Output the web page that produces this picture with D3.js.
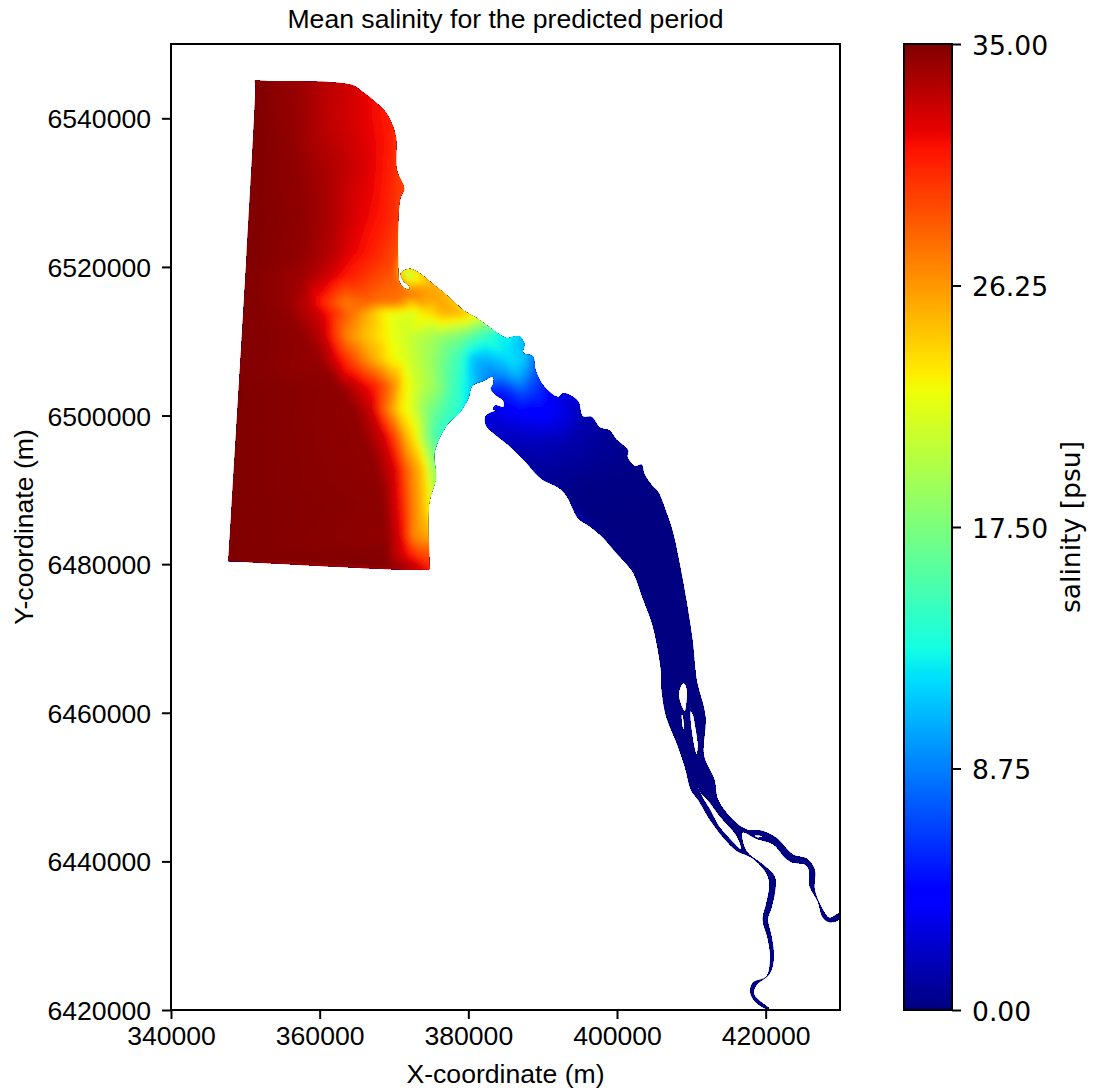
<!DOCTYPE html>
<html>
<head>
<meta charset="utf-8">
<script src="https://cdn.jsdelivr.net/npm/d3@7"></script>
<style>
  html, body { margin: 0; padding: 0; background: #fff; }
  svg { display: block; }
</style>
</head>
<body>
<div id="chart"></div>
<script>
// all coordinates below are in km
const xTicks = [340000, 360000, 380000, 400000, 420000];
const yTicks = [6420000, 6440000, 6460000, 6480000, 6500000, 6520000, 6540000];
const barTicks = [0, 8.75, 17.5, 26.25, 35];

// outer boundary of the model domain
const domainOutline = [
  [351.35,6544.4],[351.3,6545.1],[352.2,6545.05],[364.3,6544.5],[365.9,6543.5],[367.4,6542.3],[368.8,6541.0],[369.7,6539.4],[370.3,6537.4],[370.4,6533.1],
  [371.4,6530.5],[370.9,6529.3],[370.6,6526.0],[370.6,6520.1],[370.8,6517.9],[371.4,6517.2],[372.0,6517.0],[372.0,6517.4],
  [371.2,6518.1],[370.9,6519.2],[372.1,6519.8],[373.0,6519.5],[375.7,6517.4],[377.5,6515.9],[379.5,6514.1],[381.1,6513.2],
  [383.3,6511.6],[385.1,6510.5],[386.3,6510.7],[386.9,6510.7],[387.6,6509.6],[387.4,6508.5],[388.7,6508.0],[389.1,6506.0],
  [390.3,6503.8],[392.1,6502.5],[392.7,6503.0],[393.6,6502.8],[394.8,6501.9],[395.4,6499.9],[396.6,6499.8],[397.7,6498.4],
  [399.0,6498.0],[399.9,6496.8],[401.5,6495.3],[401.4,6494.5],[402.4,6493.2],[403.3,6493.4],[403.7,6492.1],[404.8,6490.5],
  [405.5,6489.8],[406.6,6487.1],[407.5,6484.4],[408.4,6480.2],[409.3,6475.3],[410.2,6469.5],[410.7,6464.5],[411.9,6459.5],
  [411.7,6454.2],[413.1,6451.0],[413.6,6448.3],[415.6,6445.6],[417.4,6444.3],[419.6,6444.1],[421.4,6443.2],[423.7,6440.9],
  [425.5,6440.4],[426.6,6438.9],[426.6,6436.2],[427.7,6433.5],[428.6,6432.4],[429.9,6433.0],[429.9,6432.2],[428.6,6431.8],
  [427.7,6432.4],[427.0,6434.6],[425.9,6436.7],[425.8,6438.9],[425.2,6439.6],[423.7,6439.8],[422.6,6440.5],[421.0,6442.3],
  [418.8,6443.0],[416.9,6443.9],[417.4,6441.4],[419.6,6439.6],[421.2,6438.0],[421.3,6436.2],[420.8,6433.8],[420.3,6432.2],
  [420.8,6429.9],[421.1,6427.0],[420.5,6424.8],[418.8,6423.4],[418.4,6422.3],[419.0,6421.4],[420.5,6420.2],[419.9,6420.2],
  [418.5,6421.2],[417.9,6422.5],[418.3,6423.7],[420.1,6424.5],[420.6,6427.0],[420.3,6429.5],[419.6,6432.2],[420.1,6434.4],
  [420.5,6437.1],[419.9,6438.7],[418.1,6440.5],[416.1,6441.4],[414.3,6443.2],[412.5,6445.6],[410.9,6448.3],[410.0,6449.5],
  [409.1,6452.8],[408.0,6456.0],[406.6,6459.5],[406.0,6463.1],[405.9,6465.8],[404.8,6471.7],[403.5,6475.3],[402.2,6478.8],
  [401.3,6480.0],[399.9,6481.5],[398.1,6483.6],[396.3,6485.1],[394.8,6486.1],[393.2,6489.2],[392.1,6490.3],[389.8,6491.5],
  [387.4,6494.1],[385.3,6496.1],[383.3,6497.7],[382.4,6498.6],[382.3,6499.9],[383.3,6500.5],[384.0,6500.6],[383.3,6500.8],
  [383.6,6501.4],[384.3,6501.2],[384.7,6501.1],[384.7,6502.0],[383.6,6502.8],[383.0,6503.6],[383.3,6504.2],[383.3,6505.2],
  [382.0,6504.6],[380.6,6504.0],[380.0,6502.2],[378.9,6500.4],[377.1,6498.6],[375.5,6495.0],[375.7,6491.6],[374.8,6488.3],
  [374.8,6480.0],[374.8,6479.3],[374.0,6479.25],[372.1,6479.2],[348.6,6480.35],[347.7,6480.4],[347.75,6481.2]
];

// islands cut out of the river
const islandA = [[408.9,6464.0],[408.3,6462.5],[409.1,6460.2],[409.4,6461.8],[409.3,6463.6]];
const islandB = [[409.9,6460.2],[410.0,6457.8],[410.7,6454.4],[410.9,6455.5],[410.6,6457.8],[410.2,6459.8]];
const islandC = [[408.7,6459.8],[408.9,6457.8],[409.0,6457.8],[408.8,6459.8]];
const islandD = [[410.8,6450.4],[411.4,6448.8],[412.5,6447.0],[413.6,6444.9],[415.3,6442.9],[416.7,6441.6],[416.1,6443.4],[413.8,6446.1],[412.5,6447.9],[411.1,6449.5]];
const islandE = [[418.5,6443.5],[419.6,6443.4],[418.9,6443.2]];

// salinity estimates [x, y, psu]
const seaSamples = [
  [351.3,6544.8,35],[356.5,6544.8,34.3],[360.0,6544.8,33.5],[364.3,6544.5,32.5],[367.4,6542.3,31.5],[369.7,6539.4,30.8],
  [351.1,6539.9,35],[356.9,6539.9,34.3],[361.4,6539.9,33],[365.9,6539.9,32],[369.4,6539.9,30.8],
  [350.6,6533.1,35],[356.9,6533.1,34.5],[361.8,6533.1,33.5],[365.9,6533.1,32.3],[369.0,6533.1,31],[370.6,6533.1,30],
  [350.2,6526.4,35],[357.3,6526.4,34.6],[361.8,6526.4,33.5],[365.4,6526.4,32],[369.0,6526.4,30.7],[370.6,6526.4,29.8],
  [350.0,6521.9,35],[357.3,6521.9,34.5],[361.8,6521.9,33.3],[364.5,6521.9,31.8],[367.7,6521.9,30.5],[370.6,6521.9,29],
  [349.7,6518.8,35],[357.8,6518.8,34],[361.4,6518.8,32.5],[363.6,6518.8,31],[366.8,6518.8,29.7],[370.3,6518.8,28.5],
  [349.5,6515.2,35],[355.6,6515.2,34.3],[358.7,6515.2,33],[360.0,6515.2,31],[363.2,6515.2,27.5],[366.8,6515.2,28],[370.3,6515.2,27.5],[373.5,6515.2,26],
  [371.5,6519.0,20.5],[372.1,6519.2,20],[373.0,6518.8,21.5],[373.5,6518.6,22.5],[375.3,6517.4,25.5],[372.1,6516.5,27.5],[375.7,6516.0,26],[378.0,6514.8,25],
  [349.3,6513.8,35],[355.6,6513.8,34.5],[360.0,6513.8,32.5],[361.8,6513.8,30.5],[364.5,6513.8,27.5],[366.8,6513.8,25],[369.0,6513.8,22.5],[372.6,6513.8,21.5],[374.4,6513.8,23.5],[377.1,6513.8,25.5],[379.3,6513.8,25],
  [380.2,6513.4,23.5],[382.4,6512,17],[384.7,6510.7,12],[386.5,6510.7,11.5],[387.2,6509.6,11],
  [349.1,6510.7,35],[357.8,6510.7,34.5],[360.5,6510.7,33],[361.8,6510.7,30.5],[363.6,6510.7,27],[365.9,6510.7,25],[369.4,6510.7,22.5],[371.7,6510.7,21],[375.7,6510.7,19],[378.9,6510.7,17.5],[382.4,6510.7,14.5],[385.1,6510.7,13],
  [348.8,6507.6,35],[360.0,6507.6,34.3],[362.3,6507.6,32],[364.5,6507.6,29],[366.8,6507.6,26],[369.4,6507.6,23],[371.7,6507.6,21.5],[375.3,6507.6,18.5],[378.9,6507.6,14.5],[380.6,6507.6,11],[384.7,6507.6,11.5],[387.8,6507.6,11],
  [348.6,6504.0,35],[362.3,6504.0,34.6],[365.4,6504.0,32.5],[367.7,6504.0,30.5],[369.9,6504.0,27],[371.2,6504.0,23.5],[373.0,6504.0,21],[375.7,6504.0,18.5],[378.0,6504.0,15],[379.8,6504.0,12.5],[380.9,6504.0,11],
  [348.4,6500.8,35],[364.5,6500.8,34.5],[367.2,6500.8,32.5],[368.6,6500.8,28.5],[370.8,6500.8,23.5],[372.4,6500.8,21.5],[374.4,6500.8,18],[377.1,6500.8,15],[378.9,6500.8,14],
  [348.2,6497.2,35],[365.9,6497.2,34.5],[368.6,6497.2,32.5],[370.3,6497.2,29],[371.7,6497.2,25],[372.6,6497.2,23.5],[374.4,6497.2,18],[375.7,6497.2,15],[377.1,6497.2,14],
  [348.2,6492.7,35],[367.7,6492.7,34.5],[370.3,6492.7,32],[372.1,6492.7,27.5],[373.9,6492.7,24.5],[375.0,6492.7,20],[375.7,6492.7,18],
  [348.0,6488.3,35],[368.6,6488.3,34.6],[370.8,6488.3,31.5],[372.6,6488.3,27],[373.9,6488.3,25],[374.8,6488.3,22.5],
  [347.7,6483.8,35],[369.0,6483.8,34.5],[371.0,6483.8,32],[372.6,6483.8,27],[373.9,6483.8,26],[374.8,6483.8,25.5],
  [347.7,6481.5,35],[370.3,6481.5,33],[372.1,6481.5,31],[373.5,6481.5,29],[374.8,6481.5,29],
  [347.7,6480.4,35],[369.0,6479.3,35],[371.7,6479.2,34],[373.5,6479.3,33],[374.8,6479.3,31]
];
const estuarySamples = [
  [384.7,6508.5,12.5],[382.4,6507.1,10],[386.0,6507.1,12],[384.7,6505.3,9],[386.5,6505.3,10.5],[388.7,6504.4,7],
  [384.7,6503.5,5.5],[387.4,6502.6,6.5],[389.6,6502.6,5.5],[391.0,6501.3,4],[386.9,6500.4,4],[390.1,6499.9,3.9],
  [393.6,6499.9,2.7],[384.7,6498.6,2.5],[389.2,6496.8,2],[393.6,6496.3,1.3],[398.1,6495.9,0.7],[391.4,6492.7,0.8],
  [395.9,6490.5,0.2],[400.4,6491.4,0.2],[400.4,6485.1,0],[404.8,6486.0,0],[405.3,6474.8,0],
  [388.7,6508.0,8.5],[390.3,6503.8,5],[392.1,6502.5,3],[393.6,6502.8,2.4],[395.4,6499.9,1.6],[399.0,6498.0,0.6],[403.3,6493.4,0.2],[406.6,6487.1,0],
  [382.0,6504.6,9.5],[383.3,6505.2,8.5],[383.3,6504.2,7],[383.0,6503.6,5.5],[384.7,6501.5,4],[382.3,6499.9,2.5],[383.3,6497.7,2],[387.4,6494.1,1],[393.2,6489.2,0.2],[402.2,6478.8,0],[404.8,6471.7,0]
];

// matplotlib jet knots
const jetRed = [[0,0],[0.35,0],[0.66,1],[0.89,1],[1,0.5]];
const jetGreen = [[0,0],[0.125,0],[0.375,1],[0.64,1],[0.91,0],[1,0]];
const jetBlue = [[0,0.5],[0.11,1],[0.34,1],[0.65,0],[1,0]];

const width = 1101;
const height = 1092;
const margin = { top: 44, right: 261, bottom: 82, left: 171 };
const plotW = width - margin.left - margin.right;
const plotH = height - margin.top - margin.bottom;

const x = d3.scaleLinear().domain([340000, 430000]).range([0, plotW]);
const y = d3.scaleLinear().domain([6420000, 6550000]).range([plotH, 0]);
const barY = d3.scaleLinear().domain([0, 35]).range([plotH, 0]);

const channel = (knots) => d3.scaleLinear().domain(knots.map((k) => k[0])).range(knots.map((k) => k[1] * 255));
const red = channel(jetRed), green = channel(jetGreen), blue = channel(jetBlue);
const jetRgb = (s) => {
  const t = Math.max(0, Math.min(1, s / 35));
  return [red(t), green(t), blue(t)];
};
const jet = (s) => `rgb(${jetRgb(s).map(Math.round).join(",")})`;

const svg = d3.select("#chart").append("svg").attr("width", width).attr("height", height);
const g = svg.append("g").attr("transform", `translate(${margin.left},${margin.top})`);
const defs = svg.append("defs");

// path with the islands as holes
const line = d3.line()
  .x((d) => x(d[0] * 1000))
  .y((d) => y(d[1] * 1000))
  .curve(d3.curveCatmullRomClosed.alpha(0.5));
const domainPath = [domainOutline, islandA, islandB, islandC, islandD, islandE].map((r) => line(r)).join(" ");

defs.append("clipPath").attr("id", "domain-clip")
  .append("path")
  .attr("d", domainPath)
  .attr("clip-rule", "evenodd")
  .attr("shape-rendering", "crispEdges");

defs.append("filter").attr("id", "soften")
  .attr("filterUnits", "userSpaceOnUse")
  .attr("x", 0).attr("y", 0).attr("width", plotW).attr("height", plotH)
  .append("feGaussianBlur").attr("stdDeviation", 3);

// river and estuary base colour
g.append("path")
  .attr("d", domainPath)
  .attr("fill", jet(0))
  .attr("fill-rule", "evenodd")
  .attr("shape-rendering", "crispEdges");

// salinity field: triangulate the samples and shade each triangle
const samples = seaSamples.concat(estuarySamples);
const px = samples.map((d) => x(d[0] * 1000));
const py = samples.map((d) => y(d[1] * 1000));
const delaunay = new d3.Delaunay(Float64Array.from(samples.flatMap((d, i) => [px[i], py[i]])));

const canvas = document.createElement("canvas");
canvas.width = Math.ceil(plotW);
canvas.height = Math.ceil(plotH);
const ctx = canvas.getContext("2d");
const img = ctx.createImageData(canvas.width, canvas.height);
const put = (i, j, s) => {
  const c = jetRgb(s), k = (j * canvas.width + i) * 4;
  img.data[k] = c[0]; img.data[k + 1] = c[1]; img.data[k + 2] = c[2]; img.data[k + 3] = 255;
};

// nearest sample outside the triangulation
let hint = 0;
for (let j = 0; j < canvas.height; j++) {
  for (let i = 0; i < canvas.width; i++) {
    hint = delaunay.find(i + 0.5, j + 0.5, hint);
    put(i, j, samples[hint][2]);
  }
}

const tri = delaunay.triangles;
for (let t = 0; t < tri.length; t += 3) {
  const a = tri[t], b = tri[t + 1], c = tri[t + 2];
  const det = (py[b] - py[c]) * (px[a] - px[c]) + (px[c] - px[b]) * (py[a] - py[c]);
  if (!det) continue;
  const i0 = Math.max(0, Math.floor(Math.min(px[a], px[b], px[c])));
  const i1 = Math.min(canvas.width - 1, Math.ceil(Math.max(px[a], px[b], px[c])));
  const j0 = Math.max(0, Math.floor(Math.min(py[a], py[b], py[c])));
  const j1 = Math.min(canvas.height - 1, Math.ceil(Math.max(py[a], py[b], py[c])));
  for (let j = j0; j <= j1; j++) {
    for (let i = i0; i <= i1; i++) {
      const u = ((py[b] - py[c]) * (i + 0.5 - px[c]) + (px[c] - px[b]) * (j + 0.5 - py[c])) / det;
      const v = ((py[c] - py[a]) * (i + 0.5 - px[c]) + (px[a] - px[c]) * (j + 0.5 - py[c])) / det;
      const w = 1 - u - v;
      if (u < 0 || v < 0 || w < 0) continue;
      put(i, j, u * samples[a][2] + v * samples[b][2] + w * samples[c][2]);
    }
  }
}
ctx.putImageData(img, 0, 0);

g.append("g")
  .attr("clip-path", "url(#domain-clip)")
  .append("image")
  .attr("width", canvas.width)
  .attr("height", canvas.height)
  .attr("href", canvas.toDataURL("image/png"))
  .attr("filter", "url(#soften)");

// frame
g.append("rect")
  .attr("width", plotW)
  .attr("height", plotH)
  .attr("fill", "none")
  .attr("stroke", "#000")
  .attr("stroke-width", 2);

// axes
const sans = "'Liberation Sans', Arial, sans-serif";
const dejavu = "'DejaVu Sans', sans-serif";
const styleAxis = (sel, font, dy) => {
  sel.select(".domain").remove();
  sel.selectAll(".tick line").attr("stroke", "#000").attr("stroke-width", 2);
  sel.selectAll(".tick text")
    .attr("fill", "#000")
    .attr("dy", dy)
    .style("font-family", font)
    .style("font-size", "26.6px");
};

g.append("g")
  .attr("transform", `translate(0,${plotH})`)
  .call(d3.axisBottom(x).tickValues(xTicks).tickSize(9).tickPadding(7).tickFormat(d3.format("d")))
  .call(styleAxis, sans, "0.71em");

g.append("g")
  .call(d3.axisLeft(y).tickValues(yTicks).tickSize(9).tickPadding(11).tickFormat(d3.format("d")))
  .call(styleAxis, sans, "0.36em");

g.append("text")
  .attr("x", plotW / 2)
  .attr("y", -16)
  .attr("text-anchor", "middle")
  .style("font-family", sans)
  .style("font-size", "26.6px")
  .text("Mean salinity for the predicted period");

g.append("text")
  .attr("x", plotW / 2)
  .attr("y", plotH + 73)
  .attr("text-anchor", "middle")
  .style("font-family", sans)
  .style("font-size", "26.6px")
  .text("X-coordinate (m)");

g.append("text")
  .attr("transform", `translate(${33 - margin.left},${plotH / 2}) rotate(-90)`)
  .attr("text-anchor", "middle")
  .style("font-family", sans)
  .style("font-size", "26.6px")
  .text("Y-coordinate (m)");

// colour bar
const barX = 904 - margin.left;
const barW = 48;
const gradient = defs.append("linearGradient")
  .attr("id", "jet-bar")
  .attr("x1", 0).attr("x2", 0).attr("y1", 1).attr("y2", 0);
gradient.selectAll("stop")
  .data(d3.range(0, 257))
  .join("stop")
  .attr("offset", (d) => d / 256)
  .attr("stop-color", (d) => jet(d / 256 * 35));

g.append("rect")
  .attr("x", barX)
  .attr("width", barW)
  .attr("height", plotH)
  .attr("fill", "url(#jet-bar)")
  .attr("stroke", "#000")
  .attr("stroke-width", 2);

g.append("g")
  .attr("transform", `translate(${barX + barW},0)`)
  .call(d3.axisRight(barY).tickValues(barTicks).tickSize(9).tickPadding(11).tickFormat(d3.format(".2f")))
  .call(styleAxis, dejavu, "0.39em");

g.append("text")
  .attr("transform", `translate(${1080 - margin.left},${plotH / 2}) rotate(-90)`)
  .attr("text-anchor", "middle")
  .style("font-family", dejavu)
  .style("font-size", "26.6px")
  .text("salinity [psu]");
</script>
</body>
</html>
